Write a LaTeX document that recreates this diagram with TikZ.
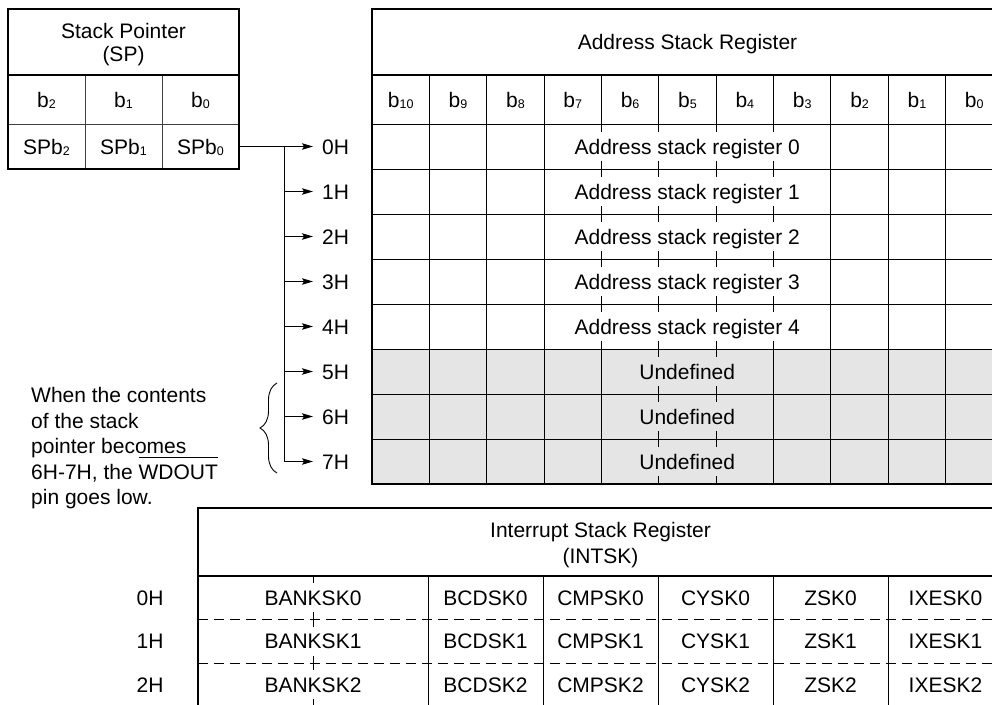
\documentclass[tikz,border=0pt]{standalone}
\usepackage{fontspec}
\setmainfont{Liberation Sans}
\usetikzlibrary{arrows.meta,decorations.pathreplacing}
\newcommand\sbs[1]{\raisebox{-1.2pt}{\fontsize{12.5}{12.5}\selectfont #1}}
\newsavebox\ovbox
\newcommand\ovl[1]{\sbox\ovbox{#1}\rlap{\rule[21pt]{\wd\ovbox}{1pt}}\usebox\ovbox}
\begin{document}
\begin{tikzpicture}[x=1pt,y=-1pt,
  lbl/.style={inner sep=0pt, font=\fontsize{21}{25}\selectfont, text height=15pt, text depth=0pt},
  thickb/.style={line width=2.6pt},
  midb/.style={line width=2pt},
  thinb/.style={line width=1pt},
  arr/.style={line width=1pt, -{Stealth[length=11pt,width=6.5pt,inset=2pt]}},
  tick/.style={line width=1pt},
  dsh/.style={line width=1pt, dash pattern=on 10pt off 6pt},
]
\clip (0,0) rectangle (992,704);
\fill[white] (0,0) rectangle (992,704);

% ---------- Stack pointer table ----------
\draw[thinb, black!75] (85,75) -- (85,169) (162,75) -- (162,169) (8,124) -- (239,124);
\draw[midb] (8,75) -- (239,75);
\draw[thickb] (8,9) rectangle (239,169);
\node[lbl] (sph1) at (123.5,31) {Stack Pointer};
\node[lbl] (sph2) at (123.5,53.5) {(SP)};
\node[lbl] (spb2) at (46.5,99.5) {b\sbs{2}};
\node[lbl] (spb1) at (123.5,99.5) {b\sbs{1}};
\node[lbl] (spb0) at (200.5,99.5) {b\sbs{0}};
\node[lbl] (sp2) at (46.5,146.5) {SPb\sbs{2}};
\node[lbl] (sp1) at (123.5,146.5) {SPb\sbs{1}};
\node[lbl] (sp0) at (200.5,146.5) {SPb\sbs{0}};

% ---------- Address stack register ----------
\fill[black!10] (372,349) rectangle (1003,484);
\foreach \yy in {124,169,214,259,304,349,394,439}
  \draw[thinb] (372,\yy) -- (1003,\yy);
\foreach \i in {1,2,3,8,9,10}
  \draw[thinb] ({372+57.36*\i},75) -- ({372+57.36*\i},484);
\foreach \i in {4,5,6,7}
  \draw[thinb] ({372+57.36*\i},75) -- ({372+57.36*\i},124);
\foreach \i in {4,7}
  \draw[thinb] ({372+57.36*\i},349) -- ({372+57.36*\i},484);
\foreach \i in {4,5,6,7}{
  \draw[tick] ({372+57.36*\i},124) -- ({372+57.36*\i},132);
  \foreach \yy in {169,214,259,304}
    \draw[tick] ({372+57.36*\i},\yy-8) -- ({372+57.36*\i},\yy+8);
  \draw[tick] ({372+57.36*\i},341) -- ({372+57.36*\i},349);
}
\foreach \i in {5,6}{
  \draw[tick] ({372+57.36*\i},349) -- ({372+57.36*\i},357);
  \foreach \yy in {394,439}
    \draw[tick] ({372+57.36*\i},\yy-8) -- ({372+57.36*\i},\yy+8);
  \draw[tick] ({372+57.36*\i},476) -- ({372+57.36*\i},484);
}
\draw[thickb] (372,9) rectangle (1003,484);
\draw[midb] (372,75) -- (1003,75);
\node[lbl] (ash) at (687.5,42) {Address Stack Register};
\foreach \k in {0,...,10}
  \node[lbl] (asb\k) at ({372+57.36*(10-\k)+28.68},99.5) {b\sbs{\k}};
\foreach \r in {0,...,4}
  \node[lbl] (asr\r) at (687.2,{146.5+45*\r}) {Address stack register \r};
\foreach \r in {5,6,7}
  \node[lbl] (und\r) at (687.2,{146.5+45*\r}) {Undefined};

% ---------- address labels and arrows ----------
\foreach \r in {0,...,7}
  \node[lbl, anchor=west, inner xsep=9pt] (h\r) at (313,{146.5+45*\r}) {\r H};
\coordinate (spout) at (239,146.5);
\coordinate (bus) at (284.3,146.5);
\draw[arr] (spout) -- (h0.west);
\draw[thinb] (bus) -- (bus |- h7.west);
\foreach \r in {1,...,7}
  \draw[arr] (bus |- h\r.west) -- (h\r.west);
\draw[decorate, decoration={brace, amplitude=17pt}, line width=0.9pt] (277,473) -- (277,383);

% ---------- note ----------
\node[lbl, anchor=west] (n1) at (31,395) {When the contents};
\node[lbl, anchor=west] (n2) at (31,420.5) {of the stack};
\node[lbl, anchor=west] (n3) at (31,446) {pointer becomes};
\node[lbl, anchor=west] (n4) at (31,471.5) {6H-7H, the \ovl{WDOUT}};
\node[lbl, anchor=west] (n5) at (31,497) {pin goes low.};

% ---------- Interrupt stack register ----------
\draw[dsh] (198,619.5) -- (1003,619.5);
\draw[dsh] (198,663) -- (1003,663);
\foreach \x in {428,543,658,773,888}
  \draw[thinb] (\x,576) -- (\x,706.5);
\draw[tick] (313,576) -- (313,583);
\draw[tick] (313,612) -- (313,627);
\draw[tick] (313,656) -- (313,670);
\draw[tick] (313,699) -- (313,706.5);
\draw[thickb] (198,508) rectangle (1003,706.5);
\draw[midb] (198,576) -- (1003,576);
\node[lbl] (ish1) at (600.5,529.5) {Interrupt Stack Register};
\node[lbl] (ish2) at (600.5,555.5) {(INTSK)};
\foreach \r in {0,1,2}{
  \node[lbl] (ih\r) at (150,{597.75+43.5*\r}) {\r H};
  \node[lbl] (bank\r) at (313,{597.75+43.5*\r}) {BANKSK\r};
  \node[lbl] (bcd\r) at (485.5,{597.75+43.5*\r}) {BCDSK\r};
  \node[lbl] (cmp\r) at (600.5,{597.75+43.5*\r}) {CMPSK\r};
  \node[lbl] (cy\r) at (715.5,{597.75+43.5*\r}) {CYSK\r};
  \node[lbl] (z\r) at (830.5,{597.75+43.5*\r}) {ZSK\r};
  \node[lbl] (ixe\r) at (945.5,{597.75+43.5*\r}) {IXESK\r};
}
\end{tikzpicture}
\end{document}
